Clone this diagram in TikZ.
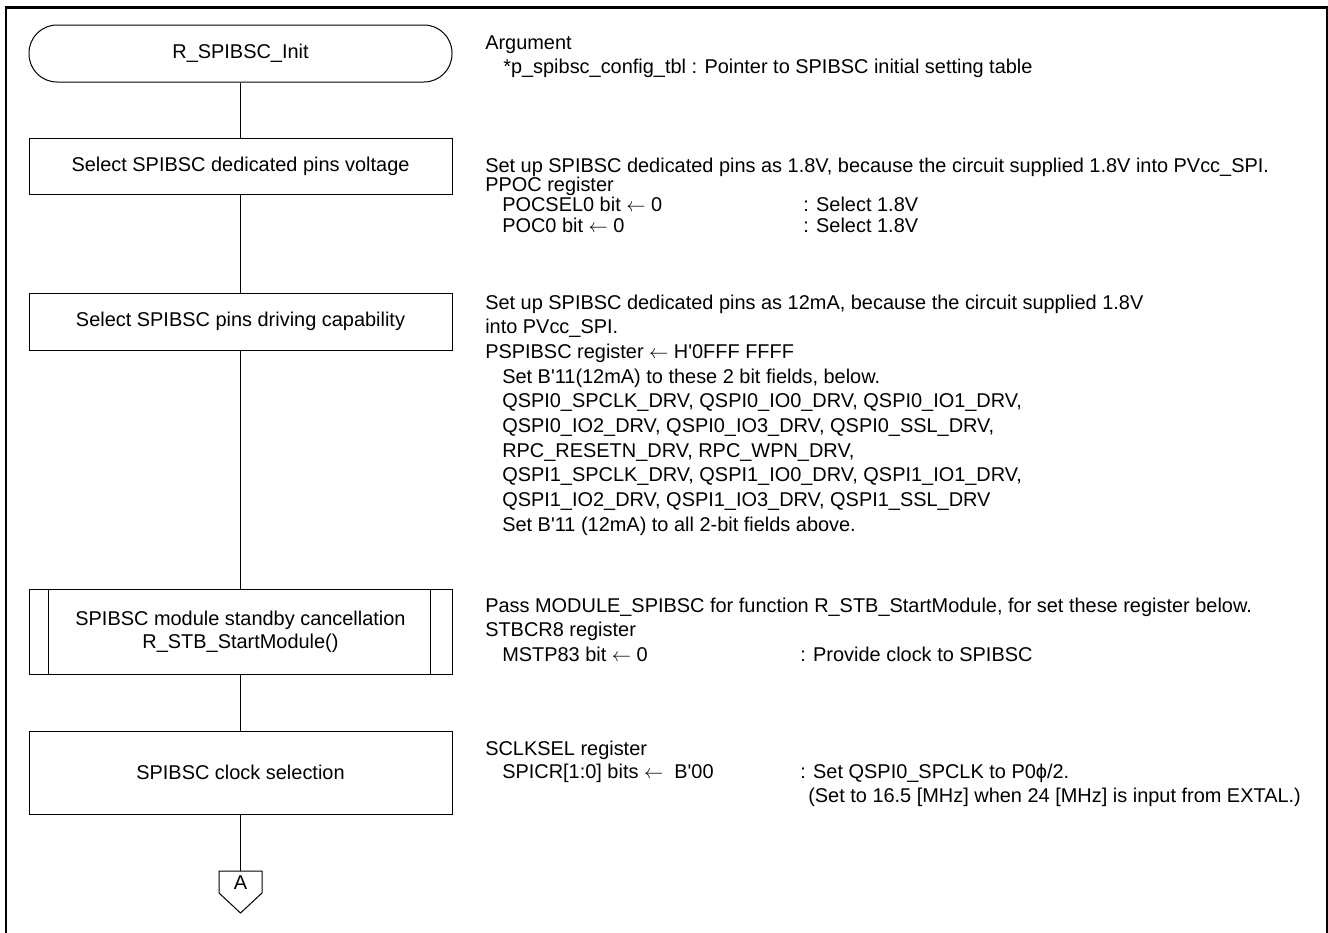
\documentclass[tikz,border=0pt]{standalone}
\usepackage{fontspec}
\setmainfont{Liberation Sans}[Ligatures=TeXOff]
\newcommand\larr{\ensuremath{\leftarrow}}
\begin{document}
\begin{tikzpicture}[x=0.75pt,y=-0.75pt,
  every node/.style={font=\fontsize{14.95pt}{18pt}\selectfont},
  shapebox/.style={draw, line width=0.75pt, minimum width=317.25pt, inner sep=0pt, align=center},
  term/.style={shapebox, rounded corners=21pt},
  txt/.style={anchor=base west, inner sep=0pt},
  flow/.style={line width=0.75pt},
  frame/.style={line width=1.7pt}]
\useasboundingbox (0,0) rectangle (1328,932);
\draw[frame] (6,934) -- (6,7.5) -- (1327,7.5) -- (1327,934);

% flow nodes
\node[term, minimum height=42.75pt] (t0) at (240.5,53.5) {R\_SPIBSC\_Init};
\node[shapebox, minimum height=42pt] (b1) at (240.5,166) {Select SPIBSC dedicated pins voltage};
\node[shapebox, minimum height=42.75pt] (b2) at (240.5,321.5) {Select SPIBSC pins driving capability};
\node[shapebox, minimum height=63.75pt] (b3) at (240.5,631.5) {SPIBSC module standby cancellation\\[-1pt]R\_STB\_StartModule()};
\draw[flow] ([xshift=15pt]b3.north west) -- ([xshift=15pt]b3.south west);
\draw[flow] ([xshift=-16.5pt]b3.north east) -- ([xshift=-16.5pt]b3.south east);
\node[shapebox, minimum height=62.25pt] (b4) at (240.5,772.5) {SPIBSC clock selection};
\coordinate (ctop) at (240.5,871);
\node[inner sep=0pt] (cA) at (240.5,883) {A};
\draw[flow] (219,871) -- (262,871) -- (262,893) -- (240.5,913) -- (219,893) -- cycle;

\draw[flow] (t0) -- (b1);
\draw[flow] (b1) -- (b2);
\draw[flow] (b2) -- (b3);
\draw[flow] (b3) -- (b4);
\draw[flow] (b4) -- (ctop);

% notes
\node[txt] (n0a) at (485,49) {Argument};
\node[txt] (n0b) at (503,73) {*p\_spibsc\_config\_tbl : Pointer to SPIBSC initial setting table};

\node[txt] (n1a) at (485,172) {Set up SPIBSC dedicated pins as 1.8V, because the circuit supplied 1.8V into PVcc\_SPI.};
\node[txt] (n1b) at (485,191.5) {PPOC register};
\node[txt] (n1c) at (502,211) {POCSEL0 bit \larr{} 0};
\node[txt] (n1d) at (803,211) {: Select 1.8V};
\node[txt] (n1e) at (502,232) {POC0 bit \larr{} 0};
\node[txt] (n1f) at (803,232) {: Select 1.8V};

\node[txt] (n2a) at (485,309) {Set up SPIBSC dedicated pins as 12mA, because the circuit supplied 1.8V};
\node[txt] (n2b) at (485,333.7) {into PVcc\_SPI.};
\node[txt] (n2c) at (485,358.3) {PSPIBSC register \larr{} H'0FFF FFFF};
\node[txt] (n2d) at (502,383) {Set B'11(12mA) to these 2 bit fields, below.};
\node[txt] (n2e) at (502,407.7) {QSPI0\_SPCLK\_DRV, QSPI0\_IO0\_DRV, QSPI0\_IO1\_DRV,};
\node[txt] (n2f) at (502,432.3) {QSPI0\_IO2\_DRV, QSPI0\_IO3\_DRV, QSPI0\_SSL\_DRV,};
\node[txt] (n2g) at (502,457) {RPC\_RESETN\_DRV, RPC\_WPN\_DRV,};
\node[txt] (n2h) at (502,481.7) {QSPI1\_SPCLK\_DRV, QSPI1\_IO0\_DRV, QSPI1\_IO1\_DRV,};
\node[txt] (n2i) at (502,506.3) {QSPI1\_IO2\_DRV, QSPI1\_IO3\_DRV, QSPI1\_SSL\_DRV};
\node[txt] (n2j) at (502,531) {Set B'11 (12mA) to all 2-bit fields above.};

\node[txt] (n3a) at (485,612) {Pass MODULE\_SPIBSC for function R\_STB\_StartModule, for set these register below.};
\node[txt] (n3b) at (485,636.5) {STBCR8 register};
\node[txt] (n3c) at (502,661) {MSTP83 bit \larr{} 0};
\node[txt] (n3d) at (800,661) {: Provide clock to SPIBSC};

\node[txt] (n4a) at (485,755) {SCLKSEL register};
\node[txt] (n4b) at (502,778.5) {SPICR[1:0] bits \larr\ \ B'00};
\node[txt] (n4c) at (800,778.5) {: Set QSPI0\_SPCLK to P0ϕ/2.};
\node[txt] (n4d) at (808,802) {(Set to 16.5 [MHz] when 24 [MHz] is input from EXTAL.)};
\end{tikzpicture}
\end{document}
